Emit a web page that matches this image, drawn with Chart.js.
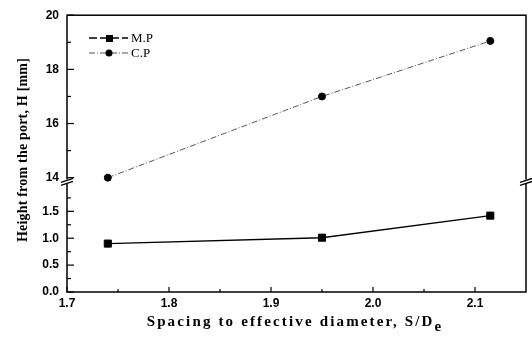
<!DOCTYPE html>
<html>
<head>
<meta charset="utf-8">
<script src="https://cdn.jsdelivr.net/npm/chart.js@4"></script>
<style>
  html, body { margin: 0; padding: 0; background: #fff; }
  #wrap { width: 532px; height: 340px; }
</style>
</head>
<body>
<div id="wrap"><canvas id="chart" width="532" height="340"></canvas></div>
<script>
// values
const spacing = [1.74, 1.95, 2.115];
const mpHeight = [0.9, 1.01, 1.42];
const cpHeight = [14.0, 17.0, 19.05];

const xTicks = [1.7, 1.8, 1.9, 2.0, 2.1];
const xMinor = [1.75, 1.85, 1.95, 2.05];
const lowTicks = [0, 0.5, 1.0, 1.5];
const lowMinor = [0.25, 0.75, 1.25, 1.75];
const highTicks = [14, 16, 18, 20];
const highMinor = [15, 17, 19];

const xTitle = "Spacing to effective diameter, S/D";
const xTitleSub = "e";
const yTitle = "Height from the port, H [mm]";

const tickFont = { family: "Liberation Sans", size: 12, weight: "bold" };

// frame, inward ticks, axis break, legend and titles
const frame = {
  id: "frame",
  afterDraw(chart) {
    const { ctx, chartArea: a, scales } = chart;
    const x = scales.x, lo = scales.yLow, hi = scales.yHigh;
    const cut = lo.top;
    ctx.save();
    ctx.strokeStyle = "#000";
    ctx.lineWidth = 1.5;
    ctx.strokeRect(a.left, a.top, a.right - a.left, a.bottom - a.top);

    const line = (x1, y1, x2, y2) => {
      ctx.beginPath(); ctx.moveTo(x1, y1); ctx.lineTo(x2, y2); ctx.stroke();
    };
    ctx.lineWidth = 1.2;
    xTicks.forEach(v => { const p = x.getPixelForValue(v); line(p, a.bottom, p, a.bottom - 5); });
    xMinor.forEach(v => { const p = x.getPixelForValue(v); line(p, a.bottom, p, a.bottom - 3); });
    lowTicks.forEach(v => { const p = lo.getPixelForValue(v); line(a.left, p, a.left + 7, p); });
    lowMinor.forEach(v => { const p = lo.getPixelForValue(v); line(a.left, p, a.left + 4, p); });
    highTicks.forEach(v => { const p = hi.getPixelForValue(v); line(a.left, p, a.left + 7, p); });
    highMinor.forEach(v => { const p = hi.getPixelForValue(v); line(a.left, p, a.left + 4, p); });

    // break marks on both vertical axes
    [a.left, a.right].forEach(bx => {
      ctx.fillStyle = "#fff";
      ctx.fillRect(bx - 2, cut - 2, 4, 4);
      ctx.lineWidth = 1.3;
      line(bx - 6, cut + 1, bx + 6, cut - 3);
      line(bx - 6, cut + 4, bx + 6, cut);
    });

    // legend
    ctx.font = '13px "Liberation Serif"';
    ctx.textBaseline = "middle";
    chart.data.datasets.forEach((ds, i) => {
      const ly = 38 + i * 15;
      ctx.strokeStyle = ds.borderColor;
      ctx.lineWidth = ds.borderWidth;
      ctx.setLineDash(ds.borderDash || [8, 3]);
      line(89, ly, 128, ly);
      ctx.setLineDash([]);
      ctx.fillStyle = "#000";
      if (ds.pointStyle === "rect") {
        ctx.fillRect(106, ly - 3, 7, 7);
      } else {
        ctx.beginPath(); ctx.arc(109, ly, 3.5, 0, Math.PI * 2); ctx.fill();
      }
      ctx.fillText(ds.label, 131, ly + 1);
    });

    // axis titles
    ctx.fillStyle = "#000";
    ctx.textBaseline = "alphabetic";
    ctx.font = 'bold 15px "Liberation Serif"';
    ctx.letterSpacing = "2.15px";
    const w1 = ctx.measureText(xTitle).width;
    const w2 = ctx.measureText(xTitleSub).width;
    const sx = 295 - (w1 + w2) / 2;
    ctx.textAlign = "left";
    ctx.fillText(xTitle, sx, 326);
    ctx.fillText(xTitleSub, sx + w1, 331);

    ctx.font = 'bold 14px "Liberation Serif"';
    ctx.letterSpacing = "0.2px";
    ctx.translate(27, 150);
    ctx.rotate(-Math.PI / 2);
    ctx.textAlign = "center";
    ctx.fillText(yTitle, 0, 0);
    ctx.restore();
  }
};

const yCommon = {
  type: "linear",
  position: "left",
  stack: "h",
  grid: { display: false, drawTicks: false },
  border: { display: false },
  afterFit: s => { s.width = 67; }
};

new Chart(document.getElementById("chart"), {
  type: "line",
  data: {
    datasets: [
      {
        label: "M.P",
        data: spacing.map((s, i) => ({ x: s, y: mpHeight[i] })),
        yAxisID: "yLow",
        borderColor: "#000",
        borderWidth: 1.4,
        pointStyle: "rect",
        pointRadius: 5,
        pointBackgroundColor: "#000",
        pointBorderColor: "#000",
        pointBorderWidth: 1,
        tension: 0,
        clip: false
      },
      {
        label: "C.P",
        data: spacing.map((s, i) => ({ x: s, y: cpHeight[i] })),
        yAxisID: "yHigh",
        borderColor: "#555",
        borderWidth: 1,
        borderDash: [6, 2, 1, 2],
        pointStyle: "circle",
        pointRadius: 3.5,
        pointBackgroundColor: "#000",
        pointBorderColor: "#000",
        pointBorderWidth: 1,
        tension: 0,
        clip: false
      }
    ]
  },
  options: {
    responsive: false,
    animation: false,
    events: [],
    layout: { padding: { top: 14, right: 1, left: 0, bottom: 0 } },
    plugins: { legend: { display: false }, tooltip: { enabled: false } },
    scales: {
      x: {
        type: "linear",
        min: 1.7,
        max: 2.15,
        grid: { display: false, drawTicks: false },
        border: { display: false },
        afterBuildTicks: s => { s.ticks = xTicks.map(v => ({ value: v })); },
        afterFit: s => { s.height = 48; },
        ticks: { padding: 4, autoSkip: false, maxRotation: 0, color: "#000", font: tickFont, callback: v => v.toFixed(1) }
      },
      yLow: Object.assign({}, yCommon, {
        stackWeight: 111,
        min: 0,
        max: 2.055,
        afterBuildTicks: s => { s.ticks = lowTicks.map(v => ({ value: v })); },
        ticks: { padding: 8, autoSkip: false, color: "#000", font: tickFont, callback: v => v.toFixed(1) }
      }),
      yHigh: Object.assign({}, yCommon, {
        stackWeight: 167,
        min: 13.86,
        max: 20,
        afterBuildTicks: s => { s.ticks = highTicks.map(v => ({ value: v })); },
        ticks: { padding: 8, autoSkip: false, color: "#000", font: tickFont, callback: v => String(v) }
      })
    }
  },
  plugins: [frame]
});
</script>
</body>
</html>
